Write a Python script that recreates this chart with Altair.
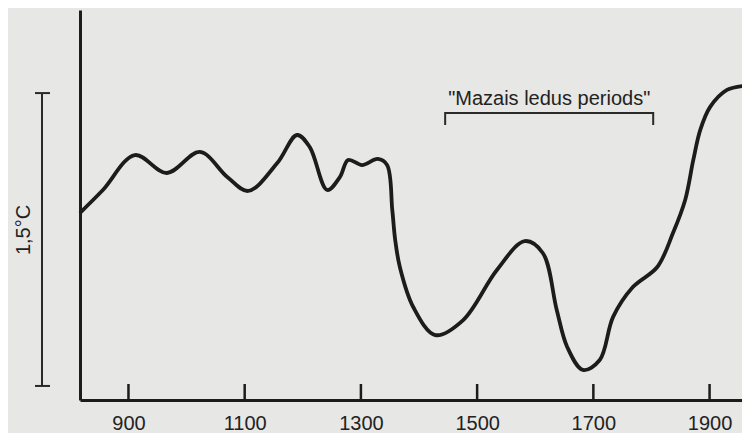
import altair as alt
import pandas as pd

# Curve (year, relative temperature in °C)
years = [818, 856, 911, 966, 1023, 1070, 1106, 1156, 1190, 1212, 1242, 1264, 1278,
         1302, 1329, 1345, 1354, 1359, 1367, 1390, 1428, 1476, 1534, 1582, 1613,
         1637, 1655, 1682, 1711, 1734, 1768, 1810, 1837, 1858, 1872, 1884, 1901,
         1930, 1956]
temps = [0.964, 1.077, 1.256, 1.164, 1.272, 1.144, 1.072, 1.215, 1.359, 1.297,
         1.077, 1.144, 1.231, 1.205, 1.236, 1.205, 0.974, 0.821, 0.682, 0.477,
         0.333, 0.410, 0.667, 0.815, 0.754, 0.462, 0.272, 0.154, 0.205, 0.426,
         0.579, 0.682, 0.856, 1.026, 1.231, 1.385, 1.503, 1.590, 1.610]

tick_years = [900, 1100, 1300, 1500, 1700, 1900]
tick_len = 0.082

# "Little Ice Age" bracket
lia_label = '"Mazais ledus periods"'
lia_start, lia_end = 1445, 1803
lia_level, lia_drop = 1.472, 1.41
lia_text_year, lia_text_level = 1624, 1.513

# scale bar 1,5 °C
bar_low, bar_high = 0.072, 1.574
bar_label = "1,5°C"
bar_label_level = 0.872

x_domain = [816.6, 1955.8]
y_domain = [0, 2.0]
ink = "#1c1c1c"
font = "Liberation Sans"

curve = pd.DataFrame({"year": years, "temp": temps})
ticks = pd.DataFrame({"year": tick_years, "lo": [0] * len(tick_years),
                      "hi": [tick_len] * len(tick_years)})
bracket = pd.DataFrame({
    "year": [lia_start, lia_start, lia_end, lia_end],
    "temp": [lia_drop, lia_level, lia_level, lia_drop],
    "order": [0, 1, 2, 3],
})
label_df = pd.DataFrame({"year": [lia_text_year], "temp": [lia_text_level], "t": [lia_label]})
bar_df = pd.DataFrame({"lo": [bar_low], "hi": [bar_high]})
caps_df = pd.DataFrame({"temp": [bar_low, bar_high]})
bar_label_df = pd.DataFrame({"temp": [bar_label_level], "t": [bar_label]})

xs = alt.Scale(domain=x_domain, nice=False, zero=False)
ys = alt.Scale(domain=y_domain, nice=False, zero=False)

x_axis = alt.Axis(values=tick_years, format="d", tickSize=0, labelPadding=13,
                  labelFontSize=20, labelColor="#222222", labelFont=font,
                  domainWidth=3, domainColor=ink, grid=False, title=None)
y_axis = alt.Axis(labels=False, ticks=False, grid=False, title=None,
                  domainWidth=3, domainColor=ink)

line = alt.Chart(curve).mark_line(interpolate="catmull-rom", color=ink, strokeWidth=3.8,
                                  strokeCap="round").encode(
    x=alt.X("year:Q", scale=xs, axis=x_axis),
    y=alt.Y("temp:Q", scale=ys, axis=y_axis),
)

tick_rules = alt.Chart(ticks).mark_rule(color=ink, strokeWidth=2.5).encode(
    x=alt.X("year:Q", scale=xs, axis=x_axis),
    y=alt.Y("lo:Q", scale=ys, axis=y_axis),
    y2="hi:Q",
)

bracket_line = alt.Chart(bracket).mark_line(color="#2a2a2a", strokeWidth=2).encode(
    x=alt.X("year:Q", scale=xs, axis=x_axis),
    y=alt.Y("temp:Q", scale=ys, axis=y_axis),
    order="order:Q",
)

lia_text = alt.Chart(label_df).mark_text(fontSize=20, font=font, color="#222222",
                                         baseline="alphabetic", align="center").encode(
    x=alt.X("year:Q", scale=xs, axis=x_axis),
    y=alt.Y("temp:Q", scale=ys, axis=y_axis),
    text="t:N",
)

bar = alt.Chart(bar_df).mark_rule(color="#2a2a2a", strokeWidth=2).encode(
    x=alt.value(-38),
    y=alt.Y("lo:Q", scale=ys, axis=y_axis),
    y2="hi:Q",
)

caps = alt.Chart(caps_df).mark_rule(color="#2a2a2a", strokeWidth=2).encode(
    x=alt.value(-45), x2=alt.value(-30),
    y=alt.Y("temp:Q", scale=ys, axis=y_axis),
)

bar_text = alt.Chart(bar_label_df).mark_text(fontSize=20, font=font, color="#222222",
                                             angle=270, baseline="middle",
                                             align="center").encode(
    x=alt.value(-56),
    y=alt.Y("temp:Q", scale=ys, axis=y_axis),
    text="t:N",
)

chart = alt.layer(line, tick_rules, bracket_line, lia_text, bar, caps, bar_text).properties(
    width=662, height=390,
    autosize=alt.AutoSizeParams(type="none"),
    padding={"left": 72, "top": 2, "right": 0, "bottom": 33},
    background="#e7e7e5",
).configure_view(stroke=None)

chart.save("out.html", embed_options={"renderer": "svg", "actions": False})
